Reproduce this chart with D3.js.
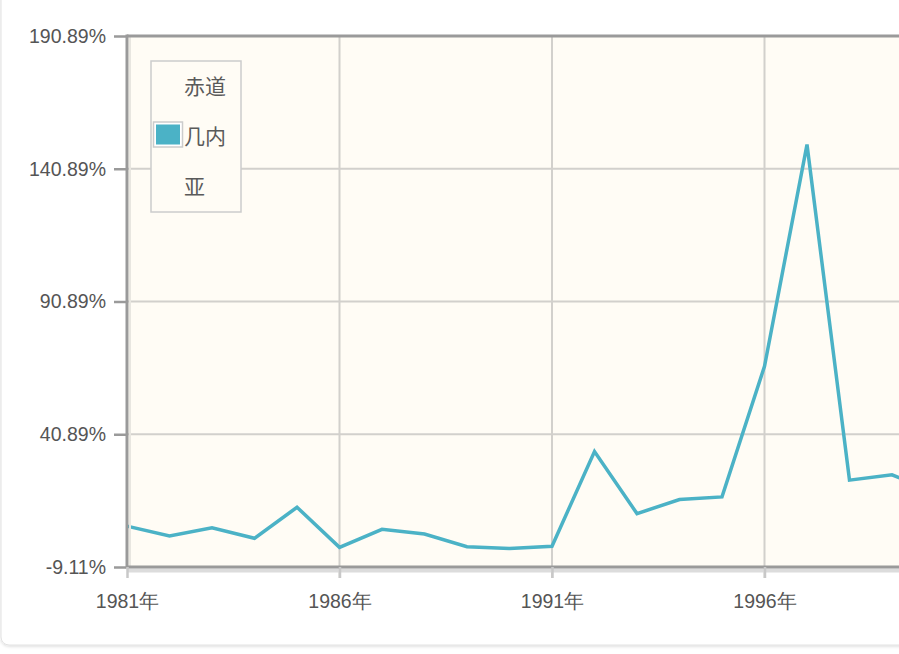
<!DOCTYPE html>
<html>
<head>
<meta charset="utf-8">
<script src="https://cdn.jsdelivr.net/npm/d3@7"></script>
<style>
  html, body { margin: 0; padding: 0; background: #fff; overflow: hidden; }
  svg { display: block; font-family: "Open Sans", "Noto Sans CJK SC", sans-serif; }
</style>
</head>
<body>
<div id="chart"></div>
<script>
// datos
var years = [1981, 1982, 1983, 1984, 1985, 1986, 1987, 1988, 1989, 1990,
             1991, 1992, 1993, 1994, 1995, 1996, 1997, 1998, 1999, 2000];
var values = [6.3, 2.6, 5.7, 1.7, 13.4, -1.7, 5.1, 3.3, -1.5, -2.1,
              -1.3, 34.4, 11.0, 16.3, 17.3, 66.5, 150.0, 23.6, 25.6, 19.0];
var seriesName = "赤道几内亚";
var yTicks = [-9.11, 40.89, 90.89, 140.89, 190.89];
var xTicks = [1981, 1986, 1991, 1996];

(function() {
  var W = 1000, H = 654;
  var pLeft = 127, pTop = 36, pBottom = 567;

  var svg = d3.select("#chart").append("svg")
    .attr("width", W).attr("height", H);

  var defs = svg.append("defs");
  var f = defs.append("filter").attr("id", "cardShadow")
    .attr("x", "-5%").attr("y", "-5%").attr("width", "110%").attr("height", "110%");
  f.append("feDropShadow").attr("dx", 0).attr("dy", 1).attr("stdDeviation", 1.5)
    .attr("flood-color", "#000").attr("flood-opacity", 0.15);

  // tarjeta de fondo
  svg.append("rect")
    .attr("x", 1).attr("y", -20).attr("width", W + 20).attr("height", 665)
    .attr("rx", 8).attr("fill", "#fff").attr("stroke", "#e2e2e2")
    .attr("filter", "url(#cardShadow)");

  var x = d3.scaleLinear().domain([1981, 2000]).range([pLeft, pLeft + 19 * 42.5]);
  var y = d3.scaleLinear().domain([-9.11, 190.89]).range([pBottom, pTop]);

  // fondo del área de trazado
  svg.append("rect")
    .attr("x", pLeft).attr("y", pTop)
    .attr("width", W - pLeft).attr("height", pBottom - pTop)
    .attr("fill", "#fffcf5");

  // rejilla
  var grid = svg.append("g");
  grid.selectAll(".hg").data(yTicks.slice(1, 4)).enter().append("line")
    .attr("x1", pLeft).attr("x2", W)
    .attr("y1", function(d) { return y(d); }).attr("y2", function(d) { return y(d); })
    .attr("stroke", "#d2d0cc").attr("stroke-width", 2);
  grid.selectAll(".vg").data(xTicks.slice(1)).enter().append("line")
    .attr("x1", function(d) { return x(d); }).attr("x2", function(d) { return x(d); })
    .attr("y1", pTop).attr("y2", pBottom + 11)
    .attr("stroke", "#d2d0cc").attr("stroke-width", 2);

  // línea de la serie
  var line = d3.line()
    .x(function(d, i) { return x(years[i]); })
    .y(function(d) { return y(d); });

  svg.append("path")
    .datum(values)
    .attr("d", line)
    .attr("fill", "none")
    .attr("stroke", "#4bb2c6")
    .attr("stroke-width", 3.5)
    .attr("stroke-linejoin", "miter");

  // bordes / ejes con sombra
  svg.append("line").attr("x1", pLeft).attr("x2", W).attr("y1", pBottom + 3.5).attr("y2", pBottom + 3.5)
    .attr("stroke", "#dcdcdc").attr("stroke-width", 4);
  svg.append("line").attr("x1", pLeft + 3).attr("x2", pLeft + 3).attr("y1", pTop).attr("y2", pBottom)
    .attr("stroke", "#e8e6e0").attr("stroke-width", 2);
  svg.append("line").attr("x1", pLeft).attr("x2", W).attr("y1", pTop).attr("y2", pTop)
    .attr("stroke", "#9a9a9a").attr("stroke-width", 3);
  svg.append("line").attr("x1", pLeft).attr("x2", W).attr("y1", pBottom).attr("y2", pBottom)
    .attr("stroke", "#9a9a9a").attr("stroke-width", 3);
  svg.append("line").attr("x1", pLeft).attr("x2", pLeft).attr("y1", pTop - 1.5).attr("y2", pBottom + 1.5)
    .attr("stroke", "#9a9a9a").attr("stroke-width", 3);

  // eje Y
  var yAxis = d3.axisLeft(y).tickValues(yTicks).tickSize(12).tickPadding(8)
    .tickFormat(function(d) { return d.toFixed(2) + "%"; });
  var gy = svg.append("g").attr("transform", "translate(" + (pLeft - 1) + ",0)").call(yAxis);
  gy.select(".domain").remove();
  gy.selectAll(".tick line").attr("stroke", "#9a9a9a").attr("stroke-width", 2.5);
  gy.selectAll(".tick text").attr("fill", "#555").attr("font-size", 19.5);

  // eje X
  var xAxis = d3.axisBottom(x).tickValues(xTicks).tickSize(11).tickPadding(16)
    .tickFormat(function(d) { return d + "年"; });
  var gx = svg.append("g").attr("transform", "translate(0," + pBottom + ")").call(xAxis);
  gx.select(".domain").remove();
  gx.selectAll(".tick line").attr("stroke", "#c8c8c8").attr("stroke-width", 2.5);
  gx.selectAll(".tick text").attr("fill", "#555").attr("font-size", 19.5);

  // leyenda
  var lg = svg.append("g");
  lg.append("rect").attr("x", 151).attr("y", 61).attr("width", 90).attr("height", 151)
    .attr("fill", "#fffcf5").attr("stroke", "#cccccc").attr("stroke-width", 1.5);
  lg.append("rect").attr("x", 153.5).attr("y", 122).attr("width", 29).attr("height", 25)
    .attr("fill", "#fff").attr("stroke", "#cccccc").attr("stroke-width", 1.5);
  lg.append("rect").attr("x", 156).attr("y", 124.5).attr("width", 24).attr("height", 20)
    .attr("fill", "#4bb2c6");
  var lines = [seriesName.slice(0, 2), seriesName.slice(2, 4), seriesName.slice(4)];
  lg.append("text").attr("fill", "#5a5a5a").attr("font-size", 21)
    .attr("font-family", "'Noto Sans CJK SC', sans-serif")
    .selectAll("tspan").data(lines).enter().append("tspan")
    .attr("x", 184).attr("y", function(d, i) { return 94 + i * 50; })
    .text(function(d) { return d; });
})();
</script>
</body>
</html>
